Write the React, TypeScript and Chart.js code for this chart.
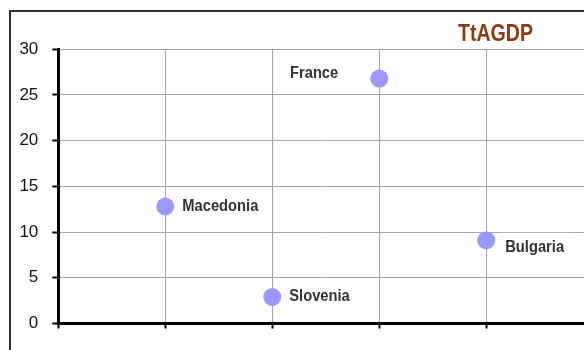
import React, { useEffect, useRef } from "react";
import { Chart, registerables } from "chart.js";

Chart.register(...registerables);

// ---- data ----
const countries = ["Macedonia", "Slovenia", "France", "Bulgaria"];
const xPositions = [1, 2, 3, 4];
const ttagdpValues = [12.8, 2.9, 26.8, 9.1];
const yTickValues = [0, 5, 10, 15, 20, 25, 30];
const xTickValues = [0, 1, 2, 3, 4, 5];
const chartTitle = "TtAGDP";

// ---- styles / label placement ----
const labelPlacement: Record<string, { dx: number; dy: number; align: "left" | "right" }> = {
  Macedonia: { dx: 17, dy: 0.5, align: "left" },
  Slovenia: { dx: 17, dy: 0, align: "left" },
  France: { dx: -41, dy: -4.5, align: "right" },
  Bulgaria: { dx: 19, dy: 7.5, align: "left" },
};
const LABEL_FONT = 'bold 16px "Liberation Sans", Arial, sans-serif';
const LABEL_SX = 0.92;
const TITLE_FONT = 'bold 23px "Liberation Sans", Arial, sans-serif';
const TITLE_WIDTH = 75;
const TITLE_CX = 495.5;
const TITLE_CY = 34.5;

const CANVAS_W = 620;
const CANVAS_H = 350;

const decorPlugin = {
  id: "decor",
  beforeDraw(chart: any) {
    const ctx = chart.ctx;
    ctx.save();
    ctx.fillStyle = "#ffffff";
    ctx.fillRect(0, 0, chart.width, chart.height);
    ctx.strokeStyle = "#333333";
    ctx.lineWidth = 2;
    ctx.strokeRect(10, 11, 2000, 2000);
    ctx.restore();
  },
  beforeDatasetsDraw(chart: any) {
    const ctx = chart.ctx;
    const meta = chart.getDatasetMeta(0);
    ctx.save();
    ctx.font = LABEL_FONT;
    countries.forEach((name, i) => {
      const el = meta.data[i];
      if (!el) return;
      const p = labelPlacement[name];
      const w = ctx.measureText(name).width * LABEL_SX;
      const left = p.align === "left" ? el.x + p.dx : el.x + p.dx - w;
      const cy = el.y + p.dy;
      ctx.fillStyle = "#ffffff";
      ctx.fillRect(left - 5, cy - 15, w + 11, 27);
    });
    ctx.restore();
  },
  afterDatasetsDraw(chart: any) {
    const ctx = chart.ctx;
    const meta = chart.getDatasetMeta(0);
    ctx.save();
    ctx.font = LABEL_FONT;
    ctx.fillStyle = "#333333";
    ctx.textBaseline = "middle";
    ctx.textAlign = "left";
    countries.forEach((name, i) => {
      const el = meta.data[i];
      if (!el) return;
      const p = labelPlacement[name];
      const w = ctx.measureText(name).width * LABEL_SX;
      const left = p.align === "left" ? el.x + p.dx : el.x + p.dx - w;
      const cy = el.y + p.dy;
      ctx.save();
      ctx.translate(left, cy);
      ctx.scale(LABEL_SX, 1);
      ctx.fillText(name, 0, 0);
      ctx.restore();
    });
    // title
    ctx.font = TITLE_FONT;
    ctx.fillStyle = "#8C3A0E";
    const tw = ctx.measureText(chartTitle).width;
    const sx = TITLE_WIDTH / tw;
    ctx.translate(TITLE_CX, TITLE_CY);
    ctx.scale(sx, 1);
    ctx.textAlign = "center";
    ctx.fillText(chartTitle, 0, 0);
    ctx.restore();
  },
};

export default function App() {
  const canvasRef = useRef<HTMLCanvasElement | null>(null);

  useEffect(() => {
    if (!canvasRef.current) return;
    const chart = new Chart(canvasRef.current, {
      type: "scatter",
      data: {
        datasets: [
          {
            label: chartTitle,
            data: countries.map((_, i) => ({ x: xPositions[i], y: ttagdpValues[i] })),
            pointRadius: 9,
            pointHoverRadius: 9,
            pointBackgroundColor: "#9999FF",
            pointBorderWidth: 0,
            showLine: false,
            clip: false as any,
          },
        ],
      },
      options: {
        animation: false,
        responsive: false,
        devicePixelRatio: 1,
        layout: {
          padding: { left: 0, top: 49.3, right: CANVAS_W - 593.2, bottom: CANVAS_H - 323.5 - 10 },
        },
        plugins: {
          legend: { display: false },
          tooltip: { enabled: false },
          title: { display: false },
        },
        scales: {
          x: {
            type: "linear",
            min: 0,
            max: 5,
            afterBuildTicks: (scale: any) => {
              scale.ticks = xTickValues.map((v) => ({ value: v }));
            },
            afterFit: (scale: any) => {
              scale.height = 10;
              scale.paddingLeft = 0;
              scale.paddingRight = 0;
            },
            ticks: { display: false },
            grid: {
              color: "#a6a6a6",
              lineWidth: 1,
              drawTicks: true,
              tickLength: 5,
              tickColor: "#000000",
              tickWidth: 2,
            },
            border: { display: true, color: "#000000", width: 3 },
          },
          y: {
            type: "linear",
            min: 0,
            max: 30,
            afterBuildTicks: (scale: any) => {
              scale.ticks = yTickValues.map((v) => ({ value: v }));
            },
            afterFit: (scale: any) => {
              scale.width = 58.3;
              scale.paddingTop = 0;
              scale.paddingBottom = 0;
            },
            ticks: {
              color: "#111111",
              font: { family: '"Liberation Sans", Arial, sans-serif', size: 17 },
              padding: 14,
            },
            grid: {
              color: "#a6a6a6",
              lineWidth: 1,
              drawTicks: true,
              tickLength: 6,
              tickColor: "#000000",
              tickWidth: 2,
            },
            border: { display: true, color: "#000000", width: 3 },
          },
        },
      },
      plugins: [decorPlugin],
    } as any);
    return () => chart.destroy();
  }, []);

  return (
    <div
      style={{
        position: "fixed",
        left: 0,
        top: 0,
        width: 584,
        height: 350,
        overflow: "hidden",
        background: "#ffffff",
      }}
    >
      <canvas
        ref={canvasRef}
        width={CANVAS_W}
        height={CANVAS_H}
        style={{ display: "block", width: CANVAS_W, height: CANVAS_H }}
      />
    </div>
  );
}
